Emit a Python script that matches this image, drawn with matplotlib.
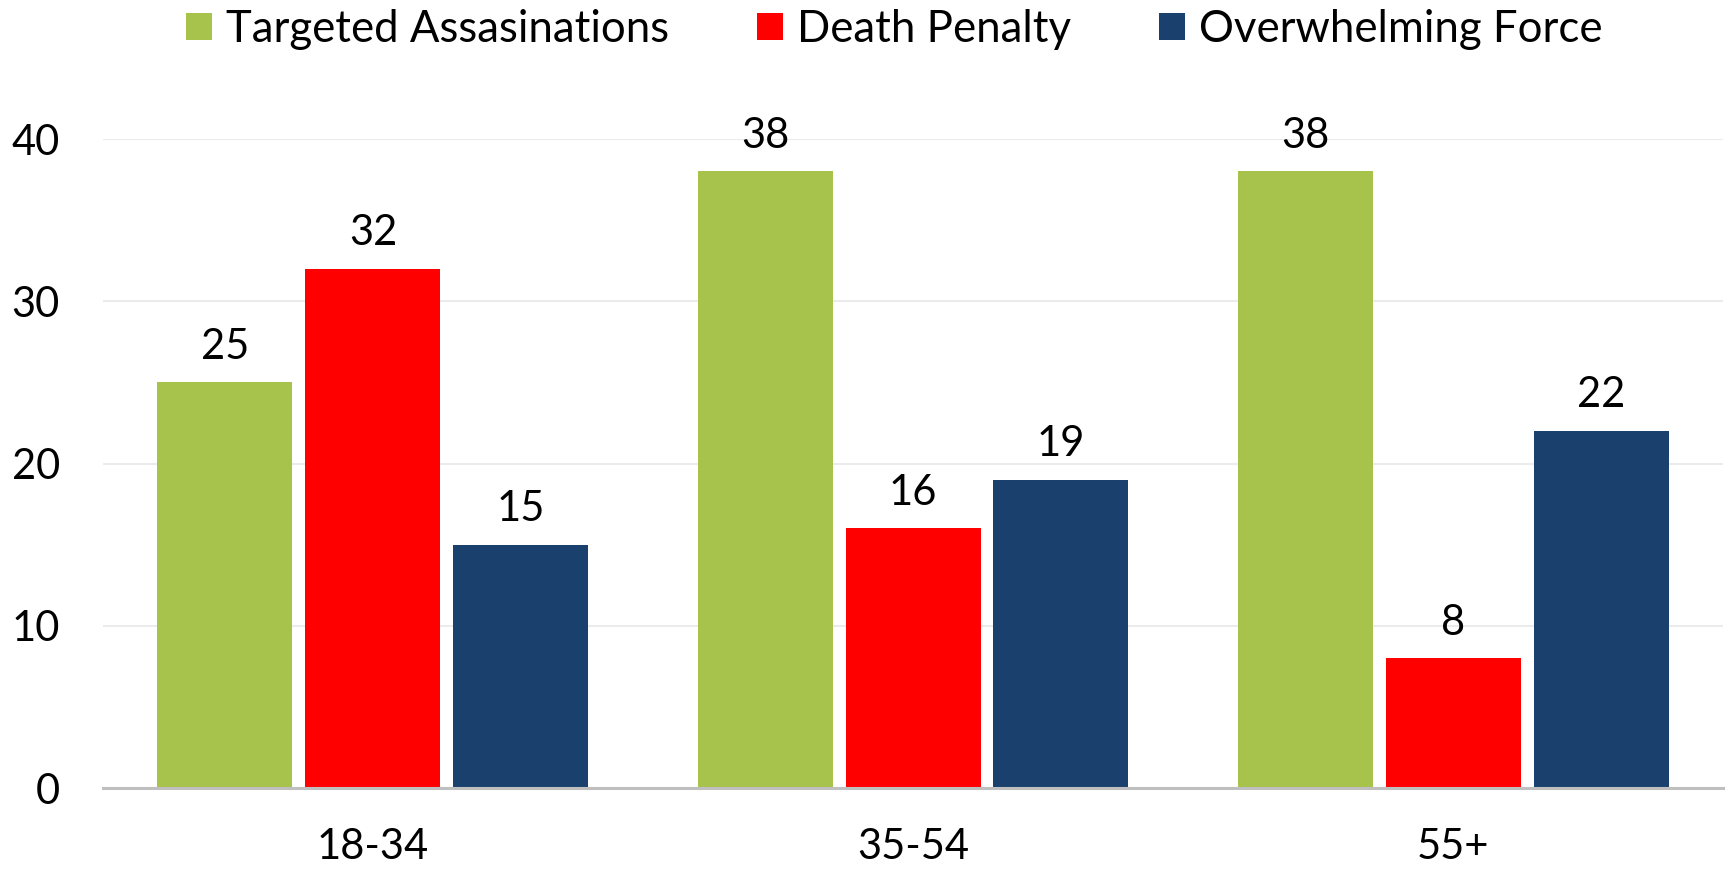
import numpy as np
import matplotlib.pyplot as plt

# data
groups = ['18-34', '35-54', '55+']
series = ['Targeted Assasinations', 'Death Penalty', 'Overwhelming Force']
targeted = [25, 38, 38]
death = [32, 16, 8]
force = [15, 19, 22]
colors = ['#A8C34C', '#FF0000', '#1A416E']

plt.rcParams['font.family'] = ['Lato', 'DejaVu Sans']

fig = plt.figure(figsize=(17.3, 8.69), dpi=100)
ax = fig.add_axes([0.0595, 0.0932, 0.9365, 0.7468])

x = np.arange(len(groups))
width = 0.25
step = 0.274
for i, (vals, name, col) in enumerate(zip([targeted, death, force], series, colors)):
    bars = ax.bar(x + (i - 1) * step, vals, width, color=col, label=name, zorder=3)
    for b, v in zip(bars, vals):
        ax.annotate(str(v), (b.get_x() + b.get_width() / 2, v),
                    xytext=(0, 12), textcoords='offset points',
                    ha='center', va='bottom', fontsize=30, annotation_clip=False)

ax.set_xlim(-0.5, 2.5)
ax.set_ylim(0, 40)
ax.set_yticks([0, 10, 20, 30, 40])
ax.set_xticks(x)
ax.set_xticklabels(groups)
ax.tick_params(axis='both', length=0, labelsize=30)
ax.tick_params(axis='x', pad=29)
ax.tick_params(axis='y', pad=31)

ax.grid(axis='y', color='#EBEBEB', lw=1.5, zorder=0)
for s in ['top', 'right', 'left']:
    ax.spines[s].set_visible(False)
ax.spines['bottom'].set_color('#BFBFBF')
ax.spines['bottom'].set_linewidth(2.2)
ax.spines['bottom'].set_zorder(4)

fig.legend(loc='upper center', bbox_to_anchor=(0.517, 1.035), ncol=3, frameon=False,
           fontsize=31.5, handlelength=0.6, handleheight=0.6, handletextpad=0.32,
           columnspacing=2.0)

fig.savefig('out.png', dpi=100)
